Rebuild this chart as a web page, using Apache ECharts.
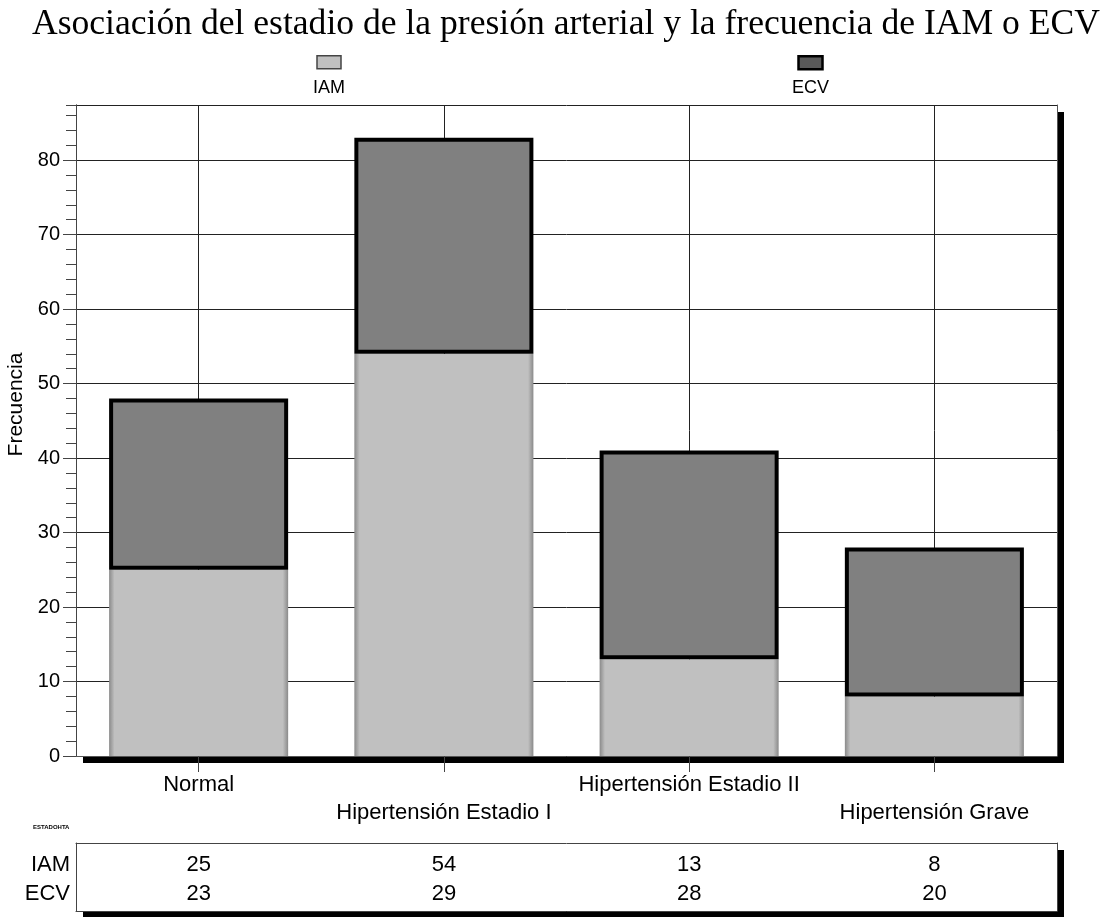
<!DOCTYPE html>
<html><head><meta charset="utf-8">
<script src="https://cdn.jsdelivr.net/npm/echarts@6/dist/echarts.min.js"></script>
<style>html,body{margin:0;padding:0;background:#fff}#c{width:1106px;height:917px}</style>
</head><body><div id="c"></div>
<script>
const chartTitle = 'Asociación del estadio de la presión arterial y la frecuencia de IAM o ECV';
const categories = ['Normal', 'Hipertensión Estadio I', 'Hipertensión Estadio II', 'Hipertensión Grave'];
const seriesNames = ['IAM', 'ECV'];
const iamValues = [25, 54, 13, 8];
const ecvValues = [23, 29, 28, 20];
const yAxisName = 'Frecuencia';
const tableName = 'ESTADOHTA';
const yMin = 0, yMax = 87.4, yMajor = 10, yMinor = 2;

const sans = '"Liberation Sans", Arial, sans-serif';
const serif = '"Liberation Serif", "Times New Roman", serif';
const legendCenters = [325, 804];
const rowShift = [5, 0];
const swatchStyles = [
  {fill: '#c0c0c0', stroke: '#444', lineWidth: 1.5},
  {fill: '#5a5a5a', stroke: '#000', lineWidth: 2.5}
];

const tableData = [];
[iamValues, ecvValues].forEach((vals, j) => vals.forEach((v, i) =>
  tableData.push({value: [i, j, v], label: {offset: [0, rowShift[j]]}})));

const legendGraphics = seriesNames.map((n, i) => ({
  type: 'group', left: legendCenters[i] - 12, top: 55,
  children: [
    {type: 'rect', shape: {x: 0, y: 0, width: 24, height: 13}, style: swatchStyles[i]},
    {type: 'text', x: 12, y: 23, style: {text: n, font: '18px ' + sans, fill: '#000', textAlign: 'center', textVerticalAlign: 'top'}}
  ]
}));

const frameAxis = (color) => ({
  axisLine: {show: true, lineStyle: {color: color, width: 1}},
  axisTick: {show: false}, axisLabel: {show: false}, splitLine: {show: false}
});

const chart = echarts.init(document.getElementById('c'), null, {renderer: 'canvas'});
chart.setOption({
  backgroundColor: '#fff',
  animation: false,
  title: {text: chartTitle, left: 27, top: 2, textStyle: {fontFamily: serif, fontSize: 35.6, fontWeight: 'normal', color: '#000'}},
  graphic: legendGraphics.concat([
    {type: 'text', left: 33, top: 824, style: {text: tableName, font: 'bold 6px ' + sans, fill: '#000'}}
  ]),
  grid: [
    {left: 76, right: 49, top: 105, bottom: 161, containLabel: false, outerBoundsMode: 'none',
     show: true, backgroundColor: '#fff', borderWidth: 0,
     shadowColor: '#000', shadowOffsetX: 7, shadowOffsetY: 7, shadowBlur: 0},
    {left: 76, right: 49, top: 843, bottom: 6, containLabel: false, outerBoundsMode: 'none',
     show: true, backgroundColor: '#fff', borderWidth: 0,
     shadowColor: '#000', shadowOffsetX: 7, shadowOffsetY: 7, shadowBlur: 0}
  ],
  xAxis: [
    {type: 'category', gridIndex: 0, data: categories, boundaryGap: true, position: 'bottom',
     axisLine: {show: true, lineStyle: {color: '#000', width: 1}},
     axisTick: {show: true, alignWithLabel: true, length: 16, lineStyle: {color: '#444'}},
     axisLabel: {interval: 0, fontFamily: sans, fontSize: 22, color: '#000', margin: 15, lineHeight: 28,
       formatter: (v, i) => (i % 2 === 1 ? '\n' : '') + v},
     splitLine: {show: true, alignWithLabel: true, lineStyle: {color: '#222', width: 1}}},
    Object.assign({type: 'category', gridIndex: 0, data: categories, position: 'top'}, frameAxis('#555')),
    Object.assign({type: 'category', gridIndex: 1, data: categories, position: 'bottom'}, frameAxis('#444')),
    Object.assign({type: 'category', gridIndex: 1, data: categories, position: 'top'}, frameAxis('#444'))
  ],
  yAxis: [
    {type: 'value', gridIndex: 0, min: yMin, max: yMax, interval: yMajor, position: 'left',
     name: yAxisName, nameLocation: 'middle', nameGap: 46,
     nameTextStyle: {fontFamily: sans, fontSize: 21, color: '#000', padding: [0, 0, 0, 52]},
     axisLine: {show: true, lineStyle: {color: '#444'}},
     axisTick: {show: true, length: 13, lineStyle: {color: '#444'}},
     axisLabel: {fontFamily: sans, fontSize: 20, color: '#000', margin: 16, showMaxLabel: false},
     splitLine: {show: true, lineStyle: {color: '#222', width: 1}}},
    {type: 'value', gridIndex: 0, min: yMin, max: yMax, interval: yMinor, position: 'left', offset: 0,
     axisLine: {show: true, lineStyle: {color: '#444'}},
     axisTick: {show: true, length: 10, lineStyle: {color: '#444'}},
     axisLabel: {show: false}, splitLine: {show: false}},
    Object.assign({type: 'value', gridIndex: 0, min: yMin, max: yMax, position: 'right'}, frameAxis('#555')),
    {type: 'category', gridIndex: 1, data: seriesNames, inverse: true, position: 'left',
     axisLine: {show: true, lineStyle: {color: '#444'}}, axisTick: {show: false},
     axisLabel: {fontFamily: sans, fontSize: 22, color: '#000', margin: 6,
       formatter: v => '{r' + seriesNames.indexOf(v) + '|' + v + '}',
       rich: {r0: {fontFamily: sans, fontSize: 22, color: '#000', padding: [rowShift[0] * 2, 0, 0, 0]},
              r1: {fontFamily: sans, fontSize: 22, color: '#000', padding: [rowShift[1] * 2, 0, 0, 0]}}}},
    Object.assign({type: 'category', gridIndex: 1, data: seriesNames, inverse: true, position: 'right'}, frameAxis('#444'))
  ],
  series: [
    {name: seriesNames[0], type: 'bar', stack: 'total', xAxisIndex: 0, yAxisIndex: 0, barWidth: '73%', data: iamValues,
     itemStyle: {color: new echarts.graphic.LinearGradient(0, 0, 1, 0, [
       {offset: 0, color: '#8a8a8a'}, {offset: 0.03, color: '#c0c0c0'}, {offset: 0.97, color: '#c0c0c0'}, {offset: 1, color: '#8a8a8a'}]),
       borderWidth: 0}},
    {name: seriesNames[1], type: 'bar', stack: 'total', xAxisIndex: 0, yAxisIndex: 0, barWidth: '73%', data: ecvValues,
     itemStyle: {color: '#808080', borderColor: '#000', borderWidth: 4}},
    {name: 'table', type: 'scatter', xAxisIndex: 2, yAxisIndex: 3, data: tableData, symbolSize: 0,
     itemStyle: {color: '#fff', opacity: 1},
     label: {show: true, position: 'inside', formatter: p => String(p.value[2]), fontFamily: sans, fontSize: 22, color: '#000', opacity: 1}}
  ]
});
</script></body></html>
